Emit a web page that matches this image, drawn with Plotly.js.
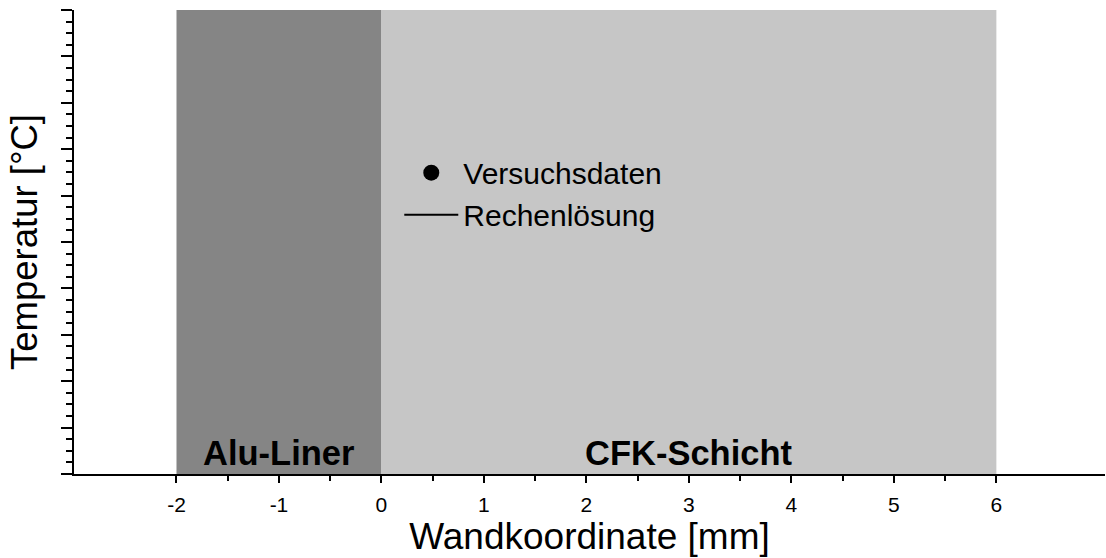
<!DOCTYPE html>
<html>
<head>
<meta charset="utf-8">
<script src="https://cdn.plot.ly/plotly-3.0.1.min.js"></script>
<style>
  html, body { margin: 0; padding: 0; background: #fff; }
  #plotArea { width: 1106px; height: 558px; }
</style>
</head>
<body>
<div id="plotArea"></div>
<script>
// Schichten der Wand (Wandkoordinate in mm)
var layerNames = ["Alu-Liner", "CFK-Schicht"];
var layerStart = [-2, 0];
var layerEnd = [0, 6];
var layerColors = ["#858585", "#c6c6c6"];

// keine Messpunkte / Kurve im Bild sichtbar (nur Legende)
var versuchX = [null];
var versuchY = [null];
var rechenX = [null];
var rechenY = [null];

var xTicks = [-2, -1, 0, 1, 2, 3, 4, 5, 6];
var xTickText = ["-2", "-1", "0", "1", "2", "3", "4", "5", "6"];
var xMinorTicks = [-1.5, -0.5, 0.5, 1.5, 2.5, 3.5, 4.5, 5.5];

var font = "Liberation Sans, Arial, sans-serif";

var trace1 = {
    x: versuchX,
    y: versuchY,
    mode: 'markers',
    type: 'scatter',
    name: 'Versuchsdaten',
    marker: { color: 'black', size: 16, symbol: 'circle' },
};
var trace2 = {
    x: rechenX,
    y: rechenY,
    mode: 'lines',
    type: 'scatter',
    name: 'Rechenlösung',
    line: { color: 'black', width: 2 },
};

var shapes = [];
var annotations = [];
for (var i = 0; i < layerNames.length; i++) {
    shapes.push({
        type: 'rect', xref: 'x', yref: 'paper',
        x0: layerStart[i], x1: layerEnd[i], y0: 0, y1: 1,
        fillcolor: layerColors[i], line: { width: 0 }, layer: 'below',
    });
    annotations.push({
        xref: 'x', yref: 'paper',
        x: (layerStart[i] + layerEnd[i]) / 2, y: 0,
        yanchor: 'bottom', yshift: 0,
        text: '<b>' + layerNames[i] + '</b>',
        showarrow: false,
        font: { family: font, size: 34.5, color: 'black' },
    });
}

var layout = {
    width: 1106,
    height: 558,
    margin: { l: 74, r: 1, t: 10, b: 84 },
    paper_bgcolor: 'white',
    plot_bgcolor: 'rgba(0,0,0,0)',
    font: { family: font, color: 'black' },
    showlegend: true,
    legend: {
        x: 0.3155, y: 0.7055, xanchor: 'left', yanchor: 'top',
        bgcolor: 'rgba(0,0,0,0)',
        font: { family: font, size: 30, color: 'black' },
        itemwidth: 54,
        tracegroupgap: 0,
    },
    xaxis: {
        range: [-3, 7.06],
        tickmode: 'array',
        tickvals: xTicks,
        ticktext: xTickText,
        ticks: 'outside', ticklen: 7, tickwidth: 2, tickcolor: 'black',
        ticklabelstandoff: 4,
        minor: { tickmode: 'array', tickvals: xMinorTicks, ticks: 'outside', ticklen: 5, tickwidth: 2, tickcolor: 'black', showgrid: false },
        showline: true, linewidth: 2, linecolor: 'black',
        showgrid: false, zeroline: false,
        tickfont: { family: font, size: 21 },
        title: { text: 'Wandkoordinate [mm]', font: { family: font, size: 37 }, standoff: 2 },
    },
    yaxis: {
        range: [0, 10],
        dtick: 1,
        showticklabels: false,
        ticks: 'outside', ticklen: 11, tickwidth: 2, tickcolor: 'black',
        minor: { dtick: 0.25, ticks: 'outside', ticklen: 6, tickwidth: 2, tickcolor: 'black', showgrid: false },
        showline: true, linewidth: 2, linecolor: 'black',
        showgrid: false, zeroline: false,
        title: { text: 'Temperatur [°C]', font: { family: font, size: 36.5 }, standoff: 12 },
    },
    shapes: shapes,
    annotations: annotations,
};

Plotly.newPlot("plotArea", [trace1, trace2], layout, { displayModeBar: false, staticPlot: true });
</script>
</body>
</html>
